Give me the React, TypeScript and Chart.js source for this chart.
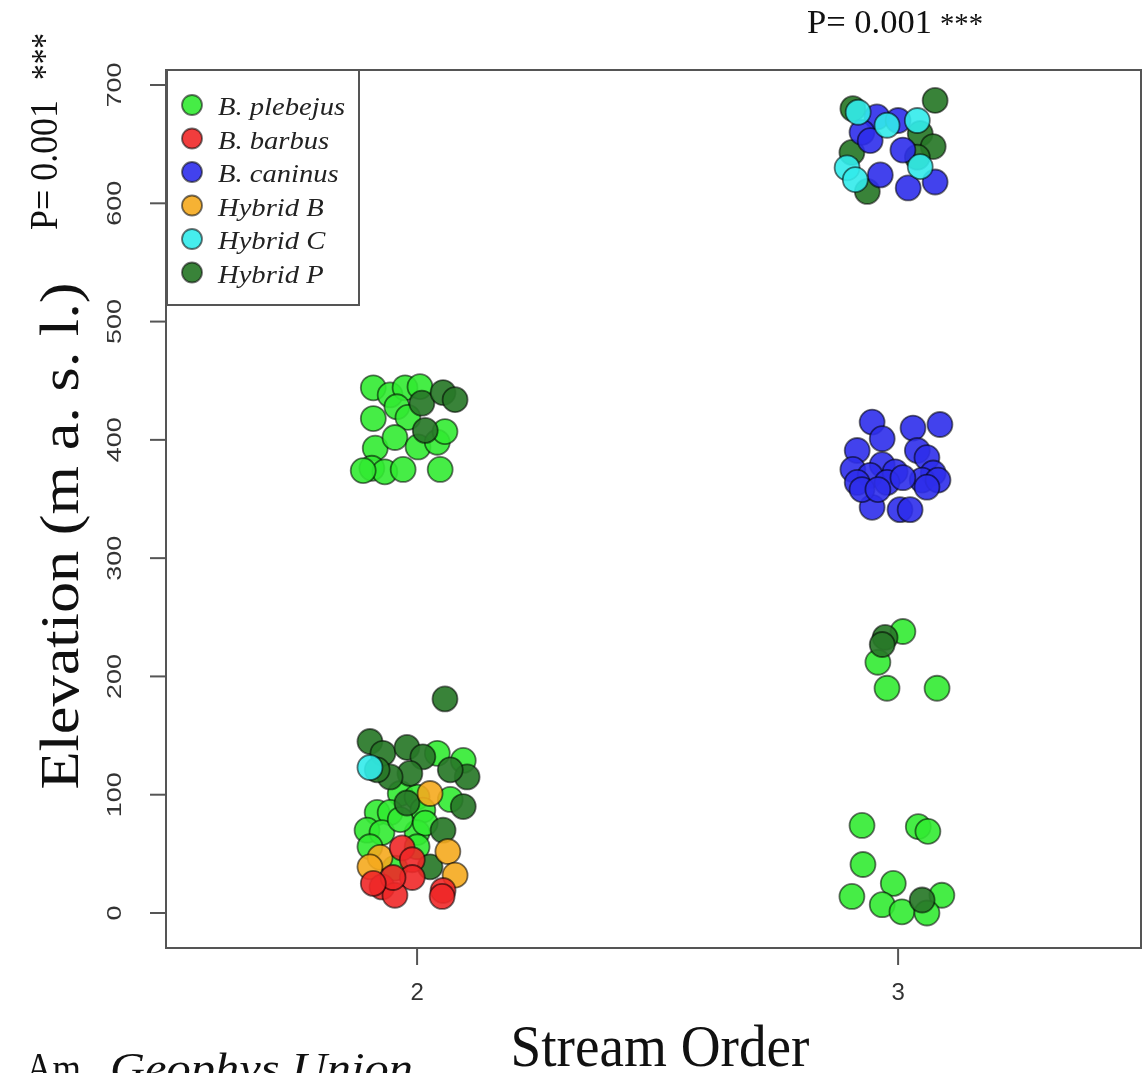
import React, { useEffect, useRef } from "react";
import { Chart, registerables } from "chart.js";

Chart.register(...registerables);

// ---- Data (x = stream order with jitter, y = elevation m a.s.l.) ----
const plebejus: [number, number][] = [
  // stream order 2, low
  [2.042, 135], [2.096, 129], [1.965, 101], [2.0, 98], [2.069, 96], [1.917, 85], [1.944, 85],
  [2.012, 87], [1.896, 70], [1.927, 68], [2.0, 68], [1.965, 79], [2.017, 76], [1.902, 56],
  [2.0, 56], [1.954, 38],
  // stream order 2, high
  [1.909, 444], [1.944, 438], [1.975, 444], [2.006, 445], [1.909, 418], [1.958, 428],
  [1.981, 419], [1.913, 393], [1.954, 402], [2.002, 394], [2.042, 398], [1.906, 376],
  [1.933, 373], [1.971, 375], [2.048, 375], [2.058, 407], [1.888, 374],
  // stream order 3
  [3.01, 238], [2.958, 212], [2.977, 190], [3.081, 190], [2.925, 74], [3.042, 73], [3.062, 69],
  [2.927, 41], [2.99, 25], [2.904, 14], [2.967, 7], [3.008, 1], [3.091, 15], [3.06, 0],
];
const barbus: [number, number][] = [
  [1.969, 55], [1.99, 45], [1.927, 22], [1.99, 30], [2.054, 19], [1.954, 15], [1.95, 30],
  [2.052, 14], [1.909, 25],
];
const caninus: [number, number][] = [
  [2.956, 673], [2.925, 660], [2.942, 653], [3.0, 670], [3.01, 645], [2.963, 624], [3.021, 613],
  [3.077, 618],
  [2.946, 415], [3.031, 410], [3.087, 413], [2.967, 401], [2.915, 391], [3.04, 391], [3.06, 385],
  [2.967, 379], [2.906, 375], [2.942, 370], [2.994, 373], [3.073, 372], [3.05, 366], [3.083, 366],
  [2.915, 364], [2.977, 364], [3.01, 368], [3.06, 360], [2.946, 343], [3.004, 341], [3.025, 341],
  [2.925, 358], [2.958, 358],
];
const hybridB: [number, number][] = [
  [2.027, 101], [2.064, 52], [1.923, 47], [1.902, 39], [2.079, 32],
];
const hybridC: [number, number][] = [
  [1.902, 123],
  [2.917, 677], [2.977, 666], [3.04, 670], [2.894, 630], [2.911, 620], [3.046, 631],
];
const hybridP: [number, number][] = [
  [2.058, 181], [1.902, 145], [1.929, 135], [1.979, 140], [2.012, 132], [2.104, 115], [2.069, 121],
  [1.985, 118], [1.944, 115], [1.917, 121], [2.096, 90], [1.979, 93], [2.054, 70], [2.027, 39],
  [2.01, 431], [2.054, 440], [2.079, 434], [2.017, 408],
  [3.077, 687], [2.906, 680], [3.046, 659], [3.073, 648], [2.904, 643], [2.936, 610], [3.04, 639],
  [2.973, 233], [2.967, 227], [3.05, 11],
];

const speciesLabels = ["B. plebejus", "B. barbus", "B. caninus", "Hybrid B", "Hybrid C", "Hybrid P"];
const speciesColors = [
  "rgba(50,235,50,0.9)",
  "rgba(240,40,40,0.9)",
  "rgba(45,45,235,0.9)",
  "rgba(245,170,30,0.9)",
  "rgba(50,235,235,0.9)",
  "rgba(40,120,40,0.92)",
];
const speciesData = [plebejus, barbus, caninus, hybridB, hybridC, hybridP];
// drawing order (lower = on top)
const speciesOrder = [6, 3, 2, 4, 1, 5];

const xTicks = [2, 3];
const yTicks = [0, 100, 200, 300, 400, 500, 600, 700];

const X_MIN = 1.478;
const X_MAX = 3.505;
const Y_MIN = -29.6;
const Y_MAX = 712.7;

function drawText(
  ctx: CanvasRenderingContext2D,
  text: string,
  x: number,
  y: number,
  font: string,
  opts: { align?: CanvasTextAlign; rotate?: number; fit?: number; sx?: number; color?: string } = {}
) {
  ctx.save();
  ctx.font = font;
  ctx.translate(x, y);
  if (opts.rotate) ctx.rotate(opts.rotate);
  let sx = opts.sx ?? 1;
  if (opts.fit) sx = opts.fit / ctx.measureText(text).width;
  ctx.scale(sx, 1);
  ctx.textAlign = opts.align ?? "left";
  ctx.textBaseline = "alphabetic";
  ctx.fillStyle = opts.color ?? "#111";
  ctx.fillText(text, 0, 0);
  ctx.restore();
}

const decorPlugin = {
  id: "decor",
  afterDraw(chart: any) {
    const ctx: CanvasRenderingContext2D = chart.ctx;
    const { left, top, right, bottom } = chart.chartArea;
    const xs = chart.scales.x;
    const ys = chart.scales.y;
    ctx.save();
    ctx.strokeStyle = "#555";
    ctx.lineWidth = 2;
    // box
    ctx.strokeRect(left, top, right - left, bottom - top);
    // y ticks
    yTicks.forEach((v) => {
      const py = ys.getPixelForValue(v);
      ctx.beginPath();
      ctx.moveTo(left - 16, py);
      ctx.lineTo(left, py);
      ctx.stroke();
      const s = String(v);
      drawText(ctx, s, left - 45, py, "21px 'Liberation Sans', Arial, sans-serif", {
        align: "center",
        rotate: -Math.PI / 2,
        fit: 15 * s.length,
        color: "#333",
      });
    });
    // x ticks
    xTicks.forEach((v) => {
      const px = xs.getPixelForValue(v);
      ctx.beginPath();
      ctx.moveTo(px, bottom);
      ctx.lineTo(px, bottom + 17);
      ctx.stroke();
      drawText(ctx, String(v), px, bottom + 52, "24px 'Liberation Sans', Arial, sans-serif", {
        align: "center",
        color: "#333",
      });
    });

    // legend
    const lx = left + 1;
    const ly = top;
    ctx.fillStyle = "#fff";
    ctx.fillRect(lx, ly, 192, 235);
    ctx.strokeStyle = "#555";
    ctx.lineWidth = 2;
    ctx.strokeRect(lx, ly, 192, 235);
    chart.data.datasets.forEach((ds: any, i: number) => {
      const cy = ly + 35 + i * 33.5;
      ctx.beginPath();
      ctx.arc(lx + 25, cy, 10, 0, Math.PI * 2);
      ctx.fillStyle = ds.backgroundColor;
      ctx.fill();
      ctx.lineWidth = 1.8;
      ctx.strokeStyle = "rgba(0,0,0,0.55)";
      ctx.stroke();
      drawText(ctx, ds.label, lx + 51, cy + 10, "italic 26px 'Liberation Serif', 'Times New Roman', serif", {
        sx: 1.1,
        color: "#222",
      });
    });

    // axis titles
    drawText(ctx, "Elevation (m a. s. l.)", 78, 536, "54px 'Liberation Serif', 'Times New Roman', serif", {
      align: "center",
      rotate: -Math.PI / 2,
      fit: 507,
    });
    drawText(ctx, "Stream Order", 660, 1066, "60px 'Liberation Serif', 'Times New Roman', serif", {
      align: "center",
      fit: 299,
    });

    // P values
    drawText(ctx, "P= 0.001", 807, 33, "34px 'Liberation Serif', 'Times New Roman', serif", { fit: 125 });
    drawText(ctx, "***", 940, 33, "30px 'Liberation Serif', 'Times New Roman', serif", { fit: 43 });
    drawText(ctx, "P= 0.001", 57, 230, "40px 'Liberation Serif', 'Times New Roman', serif", {
      rotate: -Math.PI / 2,
      fit: 130,
    });
    drawText(ctx, "***", 57, 80, "38px 'Liberation Serif', 'Times New Roman', serif", {
      rotate: -Math.PI / 2,
      fit: 47,
    });

    // credit line (cut off at bottom)
    drawText(ctx, "Am.", 26, 1082, "42px 'Liberation Serif', 'Times New Roman', serif", { fit: 64 });
    drawText(ctx, "Geophys Union", 110, 1082, "italic 42px 'Liberation Serif', 'Times New Roman', serif", {
      fit: 303,
    });
    ctx.restore();
  },
};

export default function App() {
  const ref = useRef<HTMLCanvasElement | null>(null);
  useEffect(() => {
    if (!ref.current) return;
    const chart = new Chart(ref.current, {
      type: "scatter",
      data: {
        datasets: speciesLabels.map((label, i) => ({
          label,
          data: speciesData[i].map(([x, y]) => ({ x, y })),
          backgroundColor: speciesColors[i],
          borderColor: "rgba(0,0,0,0.55)",
          borderWidth: 1.8,
          pointRadius: 12.5,
          pointHoverRadius: 12.5,
          order: speciesOrder[i],
        })),
      },
      options: {
        responsive: false,
        animation: false,
        layout: { autoPadding: false, padding: { left: 166, top: 70, right: 2, bottom: 125 } },
        scales: {
          x: { type: "linear", min: X_MIN, max: X_MAX, display: false },
          y: { type: "linear", min: Y_MIN, max: Y_MAX, display: false },
        },
        plugins: { legend: { display: false }, tooltip: { enabled: false } },
      },
      plugins: [decorPlugin],
    } as any);
    return () => chart.destroy();
  }, []);
  return (
    <div style={{ position: "absolute", left: 0, top: 0, width: 1143, height: 1073, background: "#fff" }}>
      <canvas ref={ref} width={1143} height={1073} style={{ display: "block" }} />
    </div>
  );
}
